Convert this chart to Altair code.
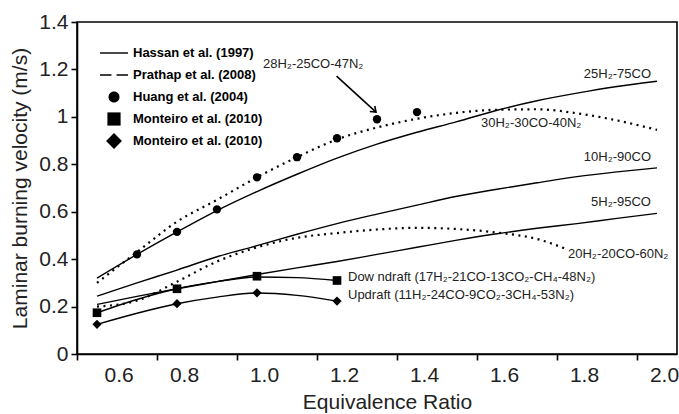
import altair as alt
import pandas as pd

FONT = "Liberation Sans, Arial, Helvetica, sans-serif"

# ---------------- data ----------------
phi = [0.6, 0.7, 0.8, 0.9, 1.0, 1.1, 1.2, 1.3, 1.4, 1.5, 1.6, 1.7, 1.8, 1.9, 2.0]
h25_co75 = [0.32, 0.42, 0.515, 0.605, 0.685, 0.758, 0.826, 0.885, 0.935, 0.98, 1.028, 1.068, 1.1, 1.128, 1.15]
h10_co90 = [0.244, 0.30, 0.354, 0.41, 0.457, 0.505, 0.55, 0.59, 0.628, 0.665, 0.695, 0.722, 0.748, 0.768, 0.785]
h5_co95 = [0.209, 0.243, 0.275, 0.305, 0.335, 0.363, 0.39, 0.42, 0.45, 0.48, 0.507, 0.53, 0.55, 0.572, 0.593]
h30_co30_n40 = [0.30, 0.43, 0.558, 0.65, 0.745, 0.83, 0.905, 0.955, 0.992, 1.017, 1.03, 1.032, 1.015, 0.985, 0.945]

phi_20 = [0.6, 0.7, 0.8, 0.9, 1.0, 1.1, 1.2, 1.3, 1.4, 1.5, 1.6, 1.7, 1.77]
h20_co20_n60 = [0.20, 0.225, 0.305, 0.39, 0.45, 0.49, 0.51, 0.525, 0.532, 0.527, 0.512, 0.485, 0.445]

phi_fit = [0.6, 0.7, 0.8, 0.9, 1.0, 1.1, 1.2]
down_fit = [0.174, 0.23, 0.275, 0.305, 0.325, 0.322, 0.31]
up_fit = [0.125, 0.172, 0.212, 0.24, 0.257, 0.247, 0.223]

huang_phi = [0.7, 0.8, 0.9, 1.0, 1.1, 1.2, 1.3, 1.4]
huang_v = [0.42, 0.515, 0.61, 0.745, 0.83, 0.91, 0.99, 1.02]

mont_phi = [0.6, 0.8, 1.0, 1.2]
down_pts = [0.174, 0.275, 0.328, 0.31]
up_pts = [0.125, 0.212, 0.258, 0.223]

x_tick_values = [0.55, 0.75, 0.95, 1.15, 1.35, 1.55, 1.75, 1.95]
x_label_step = 0.05   # printed label = tick value + step (labels sit right of their ticks)
y_values = [0, 0.2, 0.4, 0.6, 0.8, 1.0, 1.2, 1.4]

ann_labels = ["28H\u2082-25CO-47N\u2082", "25H\u2082-75CO", "30H\u2082-30CO-40N\u2082",
              "10H\u2082-90CO", "5H\u2082-95CO", "20H\u2082-20CO-60N\u2082",
              "Dow ndraft (17H\u2082-21CO-13CO\u2082-CH\u2084-48N\u2082)",
              "Updraft (11H\u2082-24CO-9CO\u2082-3CH\u2084-53N\u2082)"]
ann_x = [1.015, 1.985, 1.56, 1.985, 1.985, 1.7775, 1.2275, 1.2275]
ann_y = [1.221, 1.179, 0.972, 0.829, 0.643, 0.42, 0.325, 0.247]
ann_align = ["left", "right", "left", "right", "right", "left", "left", "left"]

arrow_x = [1.199]
arrow_y = [1.172]
arrow_x2 = [1.2975]
arrow_y2 = [1.02]

legend_labels = ["Hassan et al. (1997)", "Prathap et al. (2008)", "Huang et al. (2004)",
                 "Monteiro et al. (2010)", "Monteiro et al. (2010)"]

# ---------------- tables ----------------
solid_rows = []
for name, vals in [("25H2-75CO", h25_co75), ("10H2-90CO", h10_co90), ("5H2-95CO", h5_co95)]:
    solid_rows += [{"phi": p, "v": v, "s": name} for p, v in zip(phi, vals)]
solid_rows += [{"phi": p, "v": v, "s": "down"} for p, v in zip(phi_fit, down_fit)]
solid_rows += [{"phi": p, "v": v, "s": "up"} for p, v in zip(phi_fit, up_fit)]
solid_df = pd.DataFrame(solid_rows)

dot_rows = [{"phi": p, "v": v, "s": "30H2"} for p, v in zip(phi, h30_co30_n40)]
dot_rows += [{"phi": p, "v": v, "s": "20H2"} for p, v in zip(phi_20, h20_co20_n60)]
dot_df = pd.DataFrame(dot_rows)

huang_df = pd.DataFrame({"phi": huang_phi, "v": huang_v})
down_df = pd.DataFrame({"phi": mont_phi, "v": down_pts})
up_df = pd.DataFrame({"phi": mont_phi, "v": up_pts})

ann_df = pd.DataFrame({"t": ann_labels, "phi": ann_x, "v": ann_y, "al": ann_align})
arrow_df = pd.DataFrame({"phi": arrow_x, "v": arrow_y, "phi2": arrow_x2, "v2": arrow_y2})

leg_keys = [f"{i}|{t}" for i, t in enumerate(legend_labels)]
leg_df = pd.DataFrame({"key": leg_keys})
legend_shapes = [
    "M-1.27,-0.065H1.27V0.065H-1.27Z",
    "M-1.27,-0.065H-0.23V0.065H-1.27ZM0.23,-0.065H1.27V0.065H0.23Z",
    "M-0.5,0A0.5,0.5,0,1,1,0.5,0A0.5,0.5,0,1,1,-0.5,0Z",
    "M-0.6,-0.6H0.6V0.6H-0.6Z",
    "M0,-0.72L0.72,0L0,0.72L-0.72,0Z",
]

# ---------------- scales / axes ----------------
xscale = alt.Scale(domain=[0.55, 2.05], nice=False, zero=False)
yscale = alt.Scale(domain=[0, 1.4], nice=False)

x_axis = alt.Axis(values=x_tick_values,
                  labelExpr=f"format(datum.value + {x_label_step}, '.1f')",
                  labelOffset=27, tickSize=6, labelPadding=4,
                  title="Equivalence Ratio", titleX=310, titlePadding=6, grid=False)
y_axis = alt.Axis(values=y_values, format="~g", title="Laminar burning velocity (m/s)",
                  tickSize=6, labelPadding=3, titlePadding=8, grid=False)

X = alt.X("phi:Q", scale=xscale, axis=x_axis)
Xp = alt.X("phi:Q", scale=xscale)
Y = alt.Y("v:Q", scale=yscale, axis=y_axis)
Yp = alt.Y("v:Q", scale=yscale)

solid = alt.Chart(solid_df).mark_line(color="black", strokeWidth=1.4, interpolate="monotone").encode(
    x=X, y=Y, detail="s:N")

dotted = alt.Chart(dot_df).mark_line(color="black", strokeWidth=2.2, strokeDash=[2, 4.5],
                                     interpolate="monotone").encode(x=Xp, y=Yp, detail="s:N")

huang = alt.Chart(huang_df).mark_point(shape="circle", filled=True, color="black", size=70, opacity=1).encode(
    x=Xp, y=Yp)
down = alt.Chart(down_df).mark_point(shape="square", filled=True, color="black", size=75, opacity=1).encode(
    x=Xp, y=Yp)
up = alt.Chart(up_df).mark_point(shape="diamond", filled=True, color="black", size=85, opacity=1).encode(
    x=Xp, y=Yp)

txt_left = alt.Chart(ann_df).transform_filter(alt.datum.al == "left").mark_text(
    align="left", baseline="middle", font=FONT, fontSize=13, color="#222").encode(
    x=Xp, y=Yp, text="t:N")
txt_right = alt.Chart(ann_df).transform_filter(alt.datum.al == "right").mark_text(
    align="right", baseline="middle", font=FONT, fontSize=13, color="#222").encode(
    x=Xp, y=Yp, text="t:N")

arrow_line = alt.Chart(arrow_df).mark_rule(color="black", strokeWidth=1.6).encode(
    x=Xp, y=Yp, x2="phi2:Q", y2="v2:Q")
arrow_head = alt.Chart(arrow_df).mark_point(shape="M-1,-0.75L0,0L-1,0.75", filled=False, color="black",
                                            strokeWidth=1.6, size=100, angle=42, opacity=1).encode(
    x=alt.X("phi2:Q", scale=xscale), y=alt.Y("v2:Q", scale=yscale))

legend_layer = alt.Chart(leg_df).mark_point(opacity=0, filled=True, color="black").encode(
    shape=alt.Shape("key:N", scale=alt.Scale(domain=leg_keys, range=legend_shapes),
                    legend=alt.Legend(title=None, orient="none", legendX=26, legendY=20,
                                      labelExpr="split(datum.label,'|')[1]",
                                      symbolSize=484, symbolFillColor="black",
                                      symbolStrokeColor="black", symbolStrokeWidth=0,
                                      symbolOpacity=1, labelFontSize=13, labelFontWeight="bold",
                                      labelFont=FONT, labelColor="black", labelOffset=8,
                                      rowPadding=4, padding=0, labelLimit=300)))

chart = alt.layer(solid, dotted, huang, down, up, txt_left, txt_right, arrow_line, arrow_head,
                  legend_layer).properties(
    width=600, height=332,
    autosize=alt.AutoSizeParams(type="none"),
    padding={"left": 77, "top": 22, "right": 2, "bottom": 60},
    background="white",
).configure_view(stroke="black", strokeWidth=1.6).configure_axis(
    domainColor="black", domainWidth=1.6, tickColor="black", tickWidth=1.6,
    labelFont=FONT, labelFontSize=21, labelColor="#222",
    titleFont=FONT, titleFontSize=21, titleFontWeight="normal", titleColor="#222",
)

chart.save("out.html", embed_options={"renderer": "svg", "actions": False})
